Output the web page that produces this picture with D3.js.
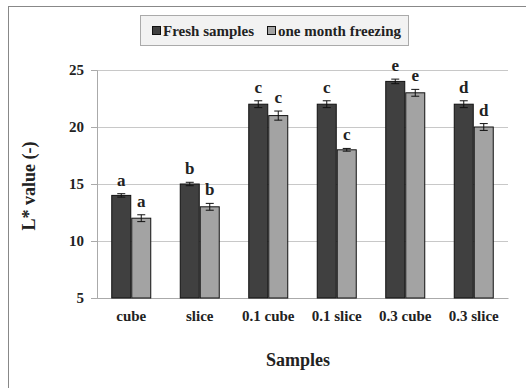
<!DOCTYPE html>
<html>
<head>
<meta charset="utf-8">
<script src="https://cdn.jsdelivr.net/npm/d3@7"></script>
<style>
  body { margin: 0; background: #fff; }
  text { font-family: "Liberation Serif", "Times New Roman", serif; font-weight: bold; fill: #222; }
</style>
</head>
<body>
<svg width="526" height="388"></svg>
<script>
var samples = ["cube", "slice", "0.1 cube", "0.1 slice", "0.3 cube", "0.3 slice"];
var seriesNames = ["Fresh samples", "one month freezing"];
var fresh = [14, 15, 22, 22, 24, 22];
var frozen = [12, 13, 21, 18, 23, 20];
var freshErr = [0.15, 0.15, 0.3, 0.3, 0.2, 0.3];
var frozenErr = [0.3, 0.3, 0.4, 0.12, 0.3, 0.3];
var freshLetters = ["a", "b", "c", "c", "e", "d"];
var frozenLetters = ["a", "b", "c", "c", "e", "d"];
var yTicks = [5, 10, 15, 20, 25];

var colors = ["#404040", "#a3a3a3"];

var svg = d3.select("svg"),
    margin = {top: 70, right: 18, bottom: 90, left: 97},
    width = +svg.attr("width") - margin.left - margin.right,
    height = +svg.attr("height") - margin.top - margin.bottom;

// outer frame
svg.append("rect")
  .attr("x", 8.5).attr("y", 6.5)
  .attr("width", 540).attr("height", 400)
  .attr("fill", "none").attr("stroke", "#888").attr("stroke-width", 1);

var g = svg.append("g").attr("transform", "translate(" + margin.left + "," + margin.top + ")");

var x = d3.scaleBand().domain(samples).range([0, width]).paddingInner(0).paddingOuter(0);
var y = d3.scaleLinear().domain([5, 25]).range([height, 0]);
var barW = 20;

// gridlines
g.selectAll(".grid").data(yTicks).enter().append("line")
  .attr("x1", 0).attr("x2", width)
  .attr("y1", function (d) { return y(d) + 0.5; })
  .attr("y2", function (d) { return y(d) + 0.5; })
  .attr("stroke", "#c8c8c8");

var yAxis = g.append("g")
  .call(d3.axisLeft(y).tickValues(yTicks).tickSize(6).tickPadding(7));
yAxis.select(".domain").attr("stroke", "#aaa");
yAxis.selectAll(".tick line").attr("stroke", "#aaa");
yAxis.selectAll("text").style("font-size", "15px").attr("fill", "#222");

var xAxis = g.append("g")
  .attr("transform", "translate(0," + height + ")")
  .call(d3.axisBottom(x).tickSize(0).tickPadding(12));
xAxis.select(".domain").attr("stroke", "#aaa");
xAxis.selectAll("text").style("font-size", "15px").attr("fill", "#222");

var series = [
  {vals: fresh, err: freshErr, letters: freshLetters, off: -barW, color: colors[0]},
  {vals: frozen, err: frozenErr, letters: frozenLetters, off: 0, color: colors[1]}
];

series.forEach(function (s) {
  var grp = g.append("g");
  samples.forEach(function (c, i) {
    var cx = x(c) + x.bandwidth() / 2 + s.off;
    grp.append("rect")
      .attr("x", cx + 0.5).attr("y", y(s.vals[i]))
      .attr("width", barW - 1).attr("height", height - y(s.vals[i]))
      .attr("fill", s.color).attr("stroke", "#111").attr("stroke-width", 1);
    var mid = cx + barW / 2;
    var hi = y(s.vals[i] + s.err[i]), lo = y(s.vals[i] - s.err[i]);
    grp.append("line").attr("x1", mid).attr("x2", mid).attr("y1", hi).attr("y2", lo).attr("stroke", "#111");
    grp.append("line").attr("x1", mid - 4).attr("x2", mid + 4).attr("y1", hi).attr("y2", hi).attr("stroke", "#111");
    grp.append("line").attr("x1", mid - 4).attr("x2", mid + 4).attr("y1", lo).attr("y2", lo).attr("stroke", "#111");
    grp.append("text")
      .attr("x", mid).attr("y", hi - 8)
      .attr("text-anchor", "middle")
      .style("font-size", "17px")
      .text(s.letters[i]);
  });
});

// axis titles
svg.append("text")
  .attr("transform", "translate(35," + 186 + ") rotate(-90)")
  .attr("text-anchor", "middle")
  .style("font-size", "18px")
  .text("L* value (-)");

svg.append("text")
  .attr("x", 298).attr("y", 366)
  .attr("text-anchor", "middle")
  .style("font-size", "18px")
  .text("Samples");

// legend
var leg = svg.append("g").attr("transform", "translate(140,15)");
leg.append("rect").attr("x", 0.5).attr("y", 0.5).attr("width", 268).attr("height", 30)
  .attr("fill", "#f2f2f2").attr("stroke", "#aaa");
var legX = [12, 127];
seriesNames.forEach(function (n, i) {
  leg.append("rect").attr("x", legX[i] + 0.5).attr("y", 11.5).attr("width", 8).attr("height", 8)
    .attr("fill", colors[i]).attr("stroke", "#111");
  leg.append("text").attr("x", legX[i] + 11).attr("y", 21)
    .style("font-size", "15px").text(n);
});
</script>
</body>
</html>
